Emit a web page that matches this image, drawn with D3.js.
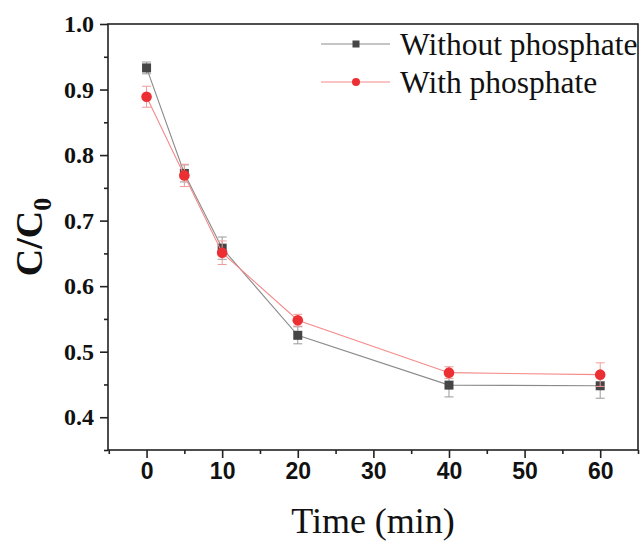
<!DOCTYPE html>
<html>
<head>
<meta charset="utf-8">
<script src="https://cdn.jsdelivr.net/npm/d3@7/dist/d3.min.js"></script>
<style>
  html, body { margin: 0; padding: 0; background: #fff; }
  svg { display: block; }
</style>
</head>
<body>
<svg id="chart" width="642" height="547"></svg>
<script>
// ---- data ----
const times = [0, 5, 10, 20, 40, 60];
const withoutP = [0.933, 0.772, 0.658, 0.525, 0.449, 0.448];
const withoutErr = [0.009, 0.013, 0.017, 0.013, 0.018, 0.019];
const withP = [0.889, 0.769, 0.651, 0.548, 0.468, 0.465];
const withErr = [0.016, 0.017, 0.018, 0.009, 0.009, 0.018];
const seriesNames = ["Without phosphate", "With phosphate"];
const xTicks = [0, 10, 20, 30, 40, 50, 60];
const xMinor = [-5, 5, 15, 25, 35, 45, 55, 65];
const yTicks = [0.4, 0.5, 0.6, 0.7, 0.8, 0.9, 1.0];
const yMinor = [0.35, 0.45, 0.55, 0.65, 0.75, 0.85, 0.95];

// ---- layout ----
const L = 108, R = 638, T = 24, B = 450;
const svg = d3.select("#chart");
const x = d3.scaleLinear().domain([-5.1, 65]).range([L, R]);
const y = d3.scaleLinear().domain([0.35, 1.0]).range([B, T]);

const axisColor = "#222";

// frame
svg.append("rect").attr("x", L).attr("y", T).attr("width", R - L).attr("height", B - T)
  .attr("fill", "none").attr("stroke", axisColor).attr("stroke-width", 1.6);

// x axis
const xAxis = svg.append("g").attr("transform", `translate(0,${B})`)
  .call(d3.axisBottom(x).tickValues(xTicks).tickSize(8).tickPadding(5).tickFormat(d3.format("d")));
xAxis.select(".domain").remove();
xAxis.selectAll("line").attr("stroke", axisColor).attr("stroke-width", 1.6);
xAxis.selectAll("text").attr("fill", "#111")
  .style("font-family", "'Liberation Sans', Arial, sans-serif")
  .style("font-weight", "bold").style("font-size", "23px");
svg.append("g").attr("transform", `translate(0,${B})`)
  .call(d3.axisBottom(x).tickValues(xMinor).tickSize(4).tickFormat(""))
  .call(g => g.select(".domain").remove())
  .selectAll("line").attr("stroke", axisColor).attr("stroke-width", 1.6);

// y axis
const yAxis = svg.append("g").attr("transform", `translate(${L},0)`)
  .call(d3.axisLeft(y).tickValues(yTicks).tickSize(8).tickPadding(6).tickFormat(d3.format(".1f")));
yAxis.select(".domain").remove();
yAxis.selectAll("line").attr("stroke", axisColor).attr("stroke-width", 1.6);
yAxis.selectAll("text").attr("fill", "#111")
  .style("font-family", "'Liberation Serif', 'Times New Roman', serif")
  .style("font-weight", "bold").style("font-size", "24px");
svg.append("g").attr("transform", `translate(${L},0)`)
  .call(d3.axisLeft(y).tickValues(yMinor).tickSize(4).tickFormat(""))
  .call(g => g.select(".domain").remove())
  .selectAll("line").attr("stroke", axisColor).attr("stroke-width", 1.6);

// axis titles
svg.append("text").attr("x", (L + R) / 2).attr("y", 533)
  .attr("text-anchor", "middle")
  .style("font-family", "'Liberation Serif', 'Times New Roman', serif")
  .style("font-size", "36px").attr("fill", "#111")
  .text("Time (min)");

const yt = svg.append("text")
  .attr("transform", `translate(42,${(T + B) / 2}) rotate(-90)`)
  .attr("text-anchor", "middle")
  .style("font-family", "'Liberation Serif', 'Times New Roman', serif")
  .style("font-weight", "bold").style("font-size", "38px").attr("fill", "#111");
yt.append("tspan").text("C/C");
yt.append("tspan").attr("dy", 9).style("font-size", "26px").text("0");

// ---- series ----
const series = [
  { name: seriesNames[0], vals: withoutP, err: withoutErr, line: "#8a8a8a", errColor: "#9a9a9a", fill: "#454545", shape: "square" },
  { name: seriesNames[1], vals: withP, err: withErr, line: "#f58a8a", errColor: "#f29a9a", fill: "#ec2f33", shape: "circle" }
];

const lineGen = d3.line().x(d => x(d.t)).y(d => y(d.v));

series.forEach(s => {
  const pts = times.map((t, i) => ({ t, v: s.vals[i], e: s.err[i] }));
  const g = svg.append("g");
  g.append("path").datum(pts).attr("d", lineGen)
    .attr("fill", "none").attr("stroke", s.line).attr("stroke-width", 1.1);
  // error bars
  const eb = g.selectAll(".eb").data(pts).enter().append("g");
  eb.append("line").attr("x1", d => x(d.t)).attr("x2", d => x(d.t))
    .attr("y1", d => y(d.v + d.e)).attr("y2", d => y(d.v - d.e))
    .attr("stroke", s.errColor).attr("stroke-width", 1);
  eb.append("line").attr("x1", d => x(d.t) - 4.5).attr("x2", d => x(d.t) + 4.5)
    .attr("y1", d => y(d.v + d.e)).attr("y2", d => y(d.v + d.e))
    .attr("stroke", s.errColor).attr("stroke-width", 1);
  eb.append("line").attr("x1", d => x(d.t) - 4.5).attr("x2", d => x(d.t) + 4.5)
    .attr("y1", d => y(d.v - d.e)).attr("y2", d => y(d.v - d.e))
    .attr("stroke", s.errColor).attr("stroke-width", 1);
  // markers
  if (s.shape === "square") {
    g.selectAll(".m").data(pts).enter().append("rect")
      .attr("x", d => x(d.t) - 4.5).attr("y", d => y(d.v) - 4.5)
      .attr("width", 9).attr("height", 9).attr("fill", s.fill);
  } else {
    g.selectAll(".m").data(pts).enter().append("circle")
      .attr("cx", d => x(d.t)).attr("cy", d => y(d.v)).attr("r", 5.3).attr("fill", s.fill);
  }
});

// ---- legend ----
const legRows = [55, 93];
series.forEach((s, i) => {
  const cy = legRows[i] - 11;
  const lg = svg.append("g");
  lg.append("line").attr("x1", 321).attr("x2", 390).attr("y1", cy).attr("y2", cy)
    .attr("stroke", s.line).attr("stroke-width", 1);
  if (s.shape === "square") {
    lg.append("rect").attr("x", 356 - 3.5).attr("y", cy - 3.5).attr("width", 7).attr("height", 7).attr("fill", s.fill);
  } else {
    lg.append("circle").attr("cx", 356).attr("cy", cy).attr("r", 4).attr("fill", s.fill);
  }
  lg.append("text").attr("x", 400).attr("y", legRows[i])
    .style("font-family", "'Liberation Serif', 'Times New Roman', serif")
    .style("font-size", "31.5px").attr("fill", "#111").text(s.name);
});
</script>
</body>
</html>
